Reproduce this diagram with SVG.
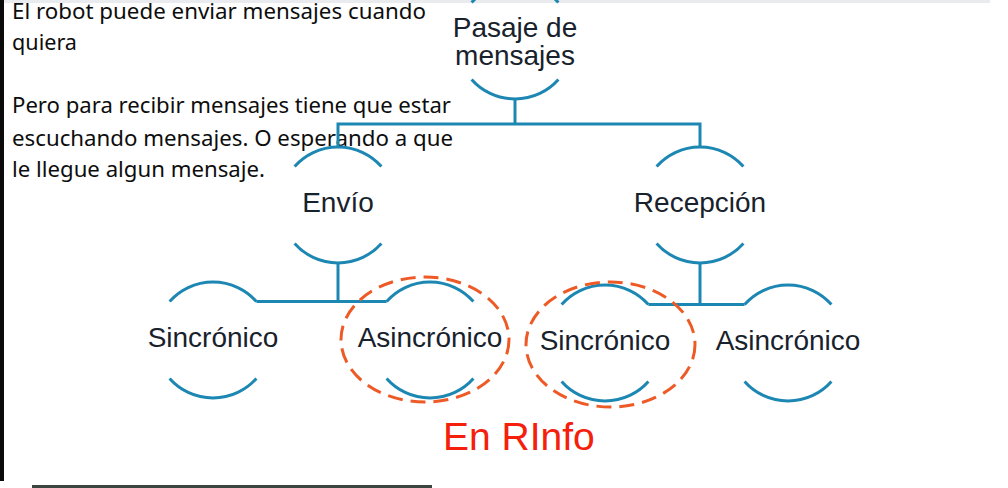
<svg xmlns="http://www.w3.org/2000/svg" width="1008" height="488" viewBox="0 0 1008 488">
  <style>
    .arc { fill: none; stroke: #1c87b2; stroke-width: 3; stroke-linecap: butt; }
    .conn { fill: none; stroke: #1c87b2; stroke-width: 3; }
    .lbl { font-family: "Liberation Sans", Arial, sans-serif; font-size: 28px; fill: #18222c; text-anchor: middle; }
    .note { font-family: "Noto Sans", "Open Sans", sans-serif; font-size: 21px; fill: #0d0d0d; }
    .hl { fill: none; stroke: #ee5a26; stroke-width: 3; stroke-dasharray: 15 8; }
    .red { font-family: "Liberation Sans", Arial, sans-serif; font-size: 39px; fill: #f5200c; }
  </style>
  <rect x="0" y="0" width="1008" height="488" fill="#ffffff"/>
  <rect x="0" y="0" width="990" height="3" fill="#e9ebef"/>
  <rect x="0" y="0" width="4" height="481" fill="#0a0a0a"/>
  <rect x="32" y="485" width="400" height="3" fill="#3c4640"/>

  <g id="notes">
    <text class="note" x="12" y="19" textLength="414" lengthAdjust="spacingAndGlyphs">El robot puede enviar mensajes cuando</text>
    <text class="note" x="12" y="50" textLength="65" lengthAdjust="spacingAndGlyphs">quiera</text>
    <text class="note" x="12" y="113" textLength="439" lengthAdjust="spacingAndGlyphs">Pero para recibir mensajes tiene que estar</text>
    <text class="note" x="12" y="146" textLength="441" lengthAdjust="spacingAndGlyphs">escuchando mensajes. O esperando a que</text>
    <text class="note" x="12" y="177" textLength="253" lengthAdjust="spacingAndGlyphs">le llegue algun mensaje.</text>
  </g>

  <g id="connectors">
    <path class="conn" d="M515,99 V124"/>
    <path class="conn" d="M338,147 V124 H700 V147"/>
    <path class="conn" d="M338,263 V301.6"/>
    <path class="conn" d="M256.4,301.6 H386.6"/>
    <path class="conn" d="M700,263 V304.6"/>
    <path class="conn" d="M648.4,304.6 H744.6"/>
  </g>

  <g id="node-pasaje">
    <path class="arc" d="M471.6,2.6 A58,58 0 0 1 558.4,2.6"/>
    <path class="arc" d="M471.6,79.4 A58,58 0 0 0 558.4,79.4"/>
    <text class="lbl" x="515" y="37">Pasaje de</text>
    <text class="lbl" x="515" y="65">mensajes</text>
  </g>

  <g id="node-envio">
    <path class="arc" d="M294.6,166.6 A58,58 0 0 1 381.4,166.6"/>
    <path class="arc" d="M294.6,243.4 A58,58 0 0 0 381.4,243.4"/>
    <text class="lbl" x="338" y="212">Envío</text>
  </g>

  <g id="node-recepcion">
    <path class="arc" d="M656.6,166.6 A58,58 0 0 1 743.4,166.6"/>
    <path class="arc" d="M656.6,243.4 A58,58 0 0 0 743.4,243.4"/>
    <text class="lbl" x="700" y="212">Recepción</text>
  </g>

  <g id="node-envio-sincronico">
    <path class="arc" d="M169.6,301.6 A58,58 0 0 1 256.4,301.6"/>
    <path class="arc" d="M169.6,378.4 A58,58 0 0 0 256.4,378.4"/>
    <text class="lbl" x="213" y="347">Sincrónico</text>
  </g>

  <g id="node-envio-asincronico">
    <path class="arc" d="M386.6,301.6 A58,58 0 0 1 473.4,301.6"/>
    <path class="arc" d="M386.6,378.4 A58,58 0 0 0 473.4,378.4"/>
    <text class="lbl" x="430" y="347">Asincrónico</text>
  </g>

  <g id="node-recepcion-sincronico">
    <path class="arc" d="M561.6,304.6 A58,58 0 0 1 648.4,304.6"/>
    <path class="arc" d="M561.6,381.4 A58,58 0 0 0 648.4,381.4"/>
    <text class="lbl" x="605" y="350">Sincrónico</text>
  </g>

  <g id="node-recepcion-asincronico">
    <path class="arc" d="M744.6,304.6 A58,58 0 0 1 831.4,304.6"/>
    <path class="arc" d="M744.6,381.4 A58,58 0 0 0 831.4,381.4"/>
    <text class="lbl" x="788" y="350">Asincrónico</text>
  </g>

  <g id="highlights">
    <ellipse class="hl" cx="425" cy="339.5" rx="84" ry="62.5"/>
    <ellipse class="hl" cx="610.5" cy="344.5" rx="84.5" ry="62.5"/>
    <text class="red" x="443" y="450">En RInfo</text>
  </g>
</svg>
